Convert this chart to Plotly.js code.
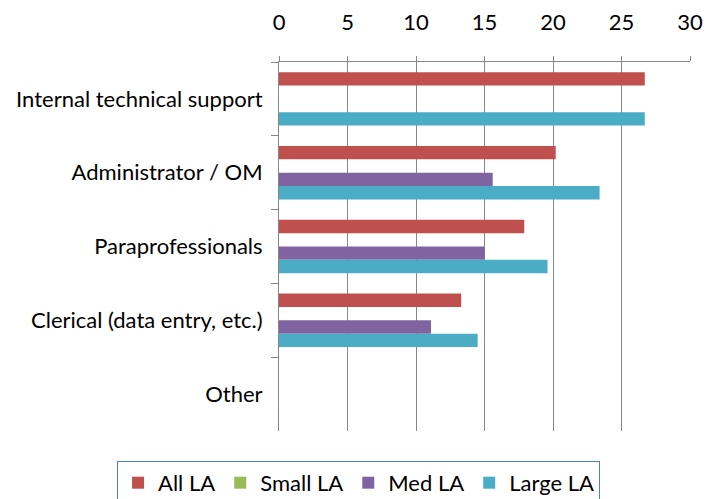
<!DOCTYPE html>
<html>
<head>
<meta charset="utf-8">
<script src="https://cdn.plot.ly/plotly-3.0.1.min.js"></script>
<style>html,body{margin:0;padding:0;background:#fff;}#chart{width:721px;height:499px;}</style>
</head>
<body>
<div id="chart"></div>
<script>
var categories = ["Internal technical support", "Administrator / OM", "Paraprofessionals", "Clerical (data entry, etc.)", "Other"];
var seriesNames = ["All LA", "Small LA", "Med LA", "Large LA"];
var allLA   = [26.7, 20.2, 17.9, 13.3, 0];
var smallLA = [0, 0, 0, 0, 0];
var medLA   = [0, 15.6, 15.0, 11.1, 0];
var largeLA = [26.7, 23.4, 19.6, 14.5, 0];
var xTicks = [0, 5, 10, 15, 20, 25, 30];

var colors = ["#C0504D", "#9BBB59", "#8064A2", "#4BACC6"];
var values = [allLA, smallLA, medLA, largeLA];
var font = "Lato, 'Open Sans', sans-serif";
var fs = 22;

var traces = values.map(function(v, i) {
  return {
    type: "bar", orientation: "h",
    x: v, y: categories, name: seriesNames[i],
    marker: {color: colors[i], line: {width: 0}},
    hoverinfo: "x+name"
  };
});

var layout = {
  width: 721, height: 499,
  margin: {l: 279, r: 31, t: 62, b: 68, autoexpand: false},
  paper_bgcolor: "#fff", plot_bgcolor: "#fff",
  barmode: "group", bargap: 0.277, bargroupgap: 0,
  font: {family: font, size: fs, color: "#000"},
  xaxis: {
    side: "top", range: [0, 30], tickvals: xTicks, ticktext: xTicks.map(String),
    showgrid: true, gridcolor: "#878787", gridwidth: 1,
    showline: true, linecolor: "#878787", linewidth: 1,
    ticks: "outside", ticklen: 5, tickcolor: "#878787",
    ticklabelstandoff: 17, zeroline: false, fixedrange: true,
    tickfont: {family: font, size: fs, color: "#000"}
  },
  yaxis: {
    type: "category", autorange: "reversed",
    showgrid: false, showline: true, linecolor: "#878787", linewidth: 1,
    ticks: "outside", ticklen: 7, tickcolor: "#878787", tickson: "boundaries",
    ticklabelstandoff: 11, fixedrange: true,
    tickfont: {family: font, size: fs, color: "#000"}
  },
  showlegend: true,
  legend: {
    orientation: "h",
    x: -0.394, xanchor: "left", y: -0.081, yanchor: "top",
    bordercolor: "#4F81BD", borderwidth: 1, bgcolor: "#fff",
    font: {family: font, size: fs, color: "#000"},
    traceorder: "normal", itemwidth: 30
  }
};

Plotly.newPlot("chart", traces, layout, {displayModeBar: false, staticPlot: true});
</script>
</body>
</html>
